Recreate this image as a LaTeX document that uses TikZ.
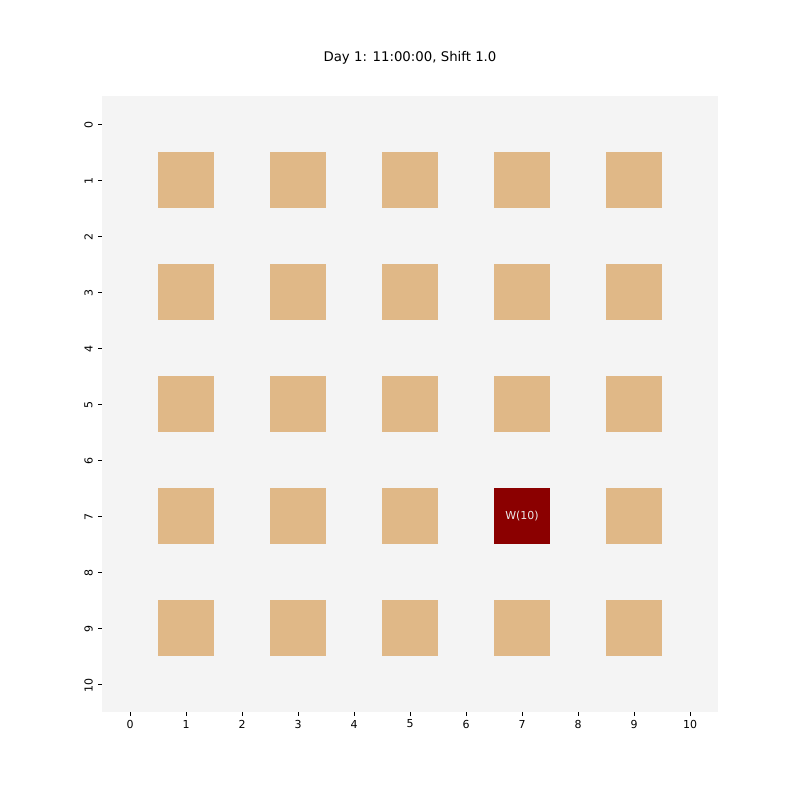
\documentclass[tikz,border=0pt]{standalone}
\usepackage{fontspec}
\setmainfont{DejaVu Sans}
\usepackage{xcolor}
\usetikzlibrary{positioning}
\definecolor{floor-grey}{RGB}{244,244,244}
\definecolor{shelf-tan}{RGB}{224,184,135}
\definecolor{worker-red}{RGB}{139,0,0}

\begin{document}
\begin{tikzpicture}[x=1pt, y=-1pt, font=\fontsize{11}{13}\selectfont,
    shelf/.style={fill=shelf-tan, minimum size=56pt, inner sep=0pt},
    worker/.style={fill=worker-red, text=white!92!black, minimum size=56pt, inner sep=0pt},
    tick/.style={line width=1pt}]
    \useasboundingbox (0,0) rectangle (800,800);

    % Title
    \node[font=\fontsize{13.3}{16}\selectfont] (title) at (410,58) {Day 1: 11:00:00, Shift 1.0};

    % Floor
    \node[fill=floor-grey, minimum width=616pt, minimum height=616pt, inner sep=0pt] (floor) at (410,404) {};

    % Shelves
    \foreach \c in {1,3,5,7,9}
        \foreach \r in {1,3,5,7,9}
            \node[shelf] (shelf-\c-\r) at ({130+56*\c},{124+56*\r}) {};

    % Worker
    \node[worker] (worker) at (shelf-7-7) {W(10)};

    % Axis ticks
    \foreach \i in {0,...,10} {
        \draw[tick] (98.2,{124+56*\i}) -- (102,{124+56*\i});
        \node[rotate=90] (ylab-\i) at (88.5,{125+56*\i}) {\i};
        \draw[tick] ({130+56*\i},712) -- ({130+56*\i},715.8);
        \node (xlab-\i) at ({130+56*\i},724) {\i};
    }
\end{tikzpicture}
\end{document}
